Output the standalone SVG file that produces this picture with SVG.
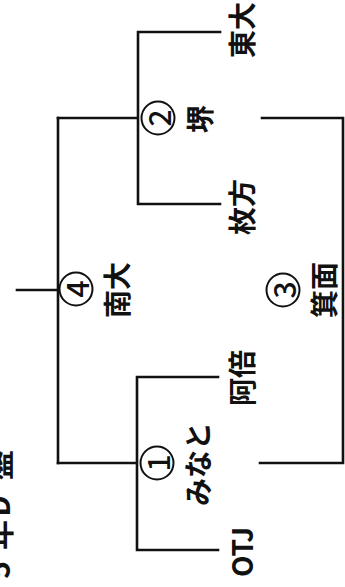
<svg xmlns="http://www.w3.org/2000/svg" width="345" height="587" viewBox="0 0 345 587">
<style>
.ln{stroke:#111;stroke-width:2.6;fill:none;stroke-linecap:square}
.t{font-family:"Noto Sans CJK JP","Noto Sans",sans-serif;font-size:28px;font-weight:bold;fill:#111;text-anchor:middle;dominant-baseline:central}
.ring{stroke:#111;stroke-width:2;fill:none}
.d{font-family:"Noto Sans CJK JP","Noto Sans",sans-serif;font-size:30px;font-weight:500;fill:#111;text-anchor:middle;dominant-baseline:central}
</style>
<rect width="345" height="587" fill="#fff"/>
<g id="connectors">
<path class="ln" d="M17,290 H58"/>
<path class="ln" d="M58,118 V463"/>
<path class="ln" d="M58,118 H138 M138,32 V204 M138,32 H220 M138,204 H220"/>
<path class="ln" d="M58,463 H137 M137,377 V550 M137,377 H218 M137,550 H218"/>
<path class="ln" d="M262,118 H343 V463 H260"/>
</g>
<g id="title">
<text class="t" style="font-size:30px" transform="translate(-3,570) rotate(-90)">5</text>
<text class="t" style="font-size:30px" transform="translate(-3,535) rotate(-90)">年</text>
<text class="t" style="font-size:30px" transform="translate(-3,506) rotate(-90)">D</text>
<text class="t" style="font-size:30px" transform="translate(-3,465) rotate(-90)">盤</text>
</g>
<g id="n-todai"><text class="t" transform="translate(241,30) rotate(-90)">東大</text></g>
<g id="n-hirakata"><text class="t" transform="translate(241,207) rotate(-90)">枚方</text></g>
<g id="n-abe"><text class="t" transform="translate(241,378) rotate(-90)">阿倍</text></g>
<g id="n-otj"><text class="t" transform="translate(241,552) rotate(-90)">OTJ</text></g>
<g id="m2"><circle class="ring" cx="158" cy="118" r="16.5"/><text class="d" transform="translate(158,118) rotate(-90)">2</text><text class="t" transform="translate(199,119) rotate(-90)">堺</text></g>
<g id="m1"><circle class="ring" cx="157" cy="463" r="16.5"/><text class="d" transform="translate(157,463) rotate(-90)">1</text><text class="t" transform="translate(197,464) rotate(-90)">みなと</text></g>
<g id="m4"><circle class="ring" cx="76" cy="289" r="16.5"/><text class="d" transform="translate(76,289) rotate(-90)">4</text><text class="t" transform="translate(116,290) rotate(-90)">南大</text></g>
<g id="m3"><circle class="ring" cx="283" cy="290" r="16.5"/><text class="d" transform="translate(283,290) rotate(-90)">3</text><text class="t" transform="translate(323,290) rotate(-90)">箕面</text></g>
</svg>
